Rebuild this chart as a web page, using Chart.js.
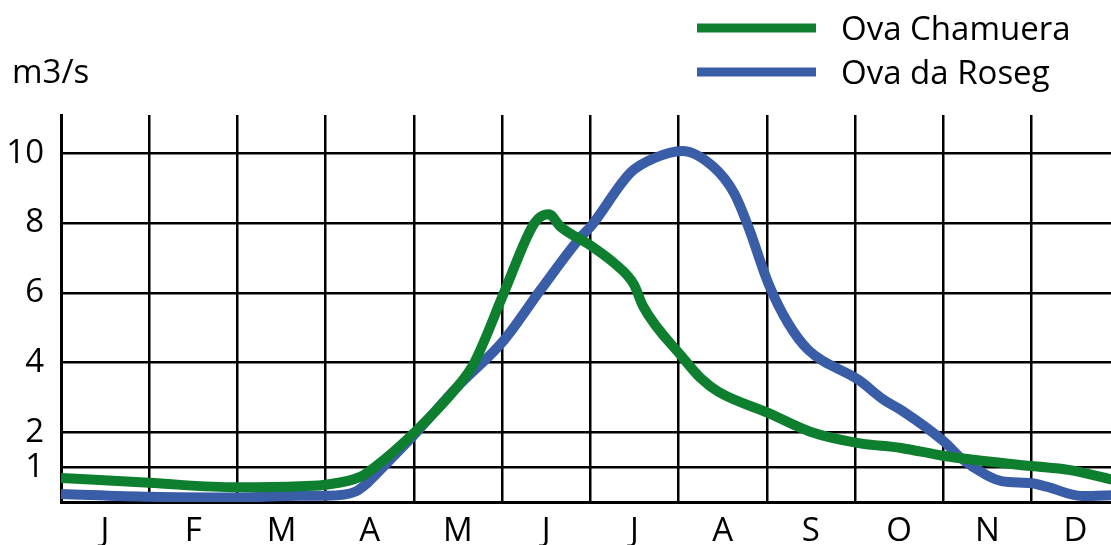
<!DOCTYPE html>
<html>
<head>
<meta charset="utf-8">
<script src="https://cdn.jsdelivr.net/npm/chart.js@4/dist/chart.umd.min.js"></script>
<style>
  html, body { margin: 0; padding: 0; background: #fff; }
  #wrap { width: 1111px; height: 545px; }
</style>
</head>
<body>
<div id="wrap"><canvas id="flow" width="1111" height="545"></canvas></div>
<script>
// month initials under the axis
const monthLabels = ["J", "F", "M", "A", "M", "J", "J", "A", "S", "O", "N", "D"];
const yTicks = [1, 2, 4, 6, 8, 10];
const seriesNames = ["Ova Chamuera", "Ova da Roseg"];
const unitLabel = "m3/s";

// Ova Chamuera, month position -> m3/s
const chamueraMonth = [0, 1, 2, 2.71, 3.02, 3.39, 3.54, 4.02, 4.49, 4.68, 5.02, 5.32, 5.42, 5.53, 5.66, 6.0, 6.27, 6.49, 6.6, 7.04, 7.25, 7.45, 8.02, 8.5, 9.04, 9.52, 10.01, 11.0, 11.42, 11.95];
const chamueraFlow  = [0.69, 0.55, 0.42, 0.45, 0.5, 0.72, 0.97, 2.03, 3.3, 3.98, 6.0, 7.8, 8.15, 8.25, 7.9, 7.36, 6.85, 6.25, 5.6, 4.16, 3.55, 3.16, 2.55, 2.01, 1.69, 1.55, 1.32, 1.03, 0.92, 0.62];

// Ova da Roseg
const rosegMonth = [0, 1, 2, 2.71, 3.02, 3.34, 3.47, 3.54, 4.02, 4.49, 5.02, 5.44, 5.89, 6.0, 6.46, 6.72, 7.04, 7.4, 7.63, 7.79, 8.02, 8.24, 8.47, 9.04, 9.33, 9.52, 10.01, 10.2, 10.49, 10.66, 11.0, 11.17, 11.57, 11.95];
const rosegFlow  = [0.23, 0.15, 0.13, 0.18, 0.18, 0.3, 0.54, 0.72, 1.98, 3.3, 4.64, 6.1, 7.6, 7.89, 9.46, 9.86, 10.07, 9.6, 8.85, 7.89, 6.25, 5.13, 4.36, 3.5, 2.92, 2.64, 1.73, 1.26, 0.77, 0.6, 0.54, 0.44, 0.17, 0.2];

const colors = ["#0e7f2e", "#3a5da8"];
const FONT = "'Open Sans', sans-serif";

const toPoints = (xs, ys) => xs.map((m, i) => ({ x: m, y: ys[i] }));

// legend + unit label drawn by hand (stacked box at top right)
const sideText = {
    id: 'sideText',
    afterDraw(chart) {
        const ctx = chart.ctx;
        ctx.save();
        ctx.font = "33px " + FONT;
        ctx.fillStyle = "#000";
        ctx.textBaseline = "alphabetic";
        ctx.textAlign = "left";
        ctx.fillText(unitLabel, 12, 83);
        chart.data.datasets.forEach((ds, i) => {
            const cy = 28 + i * 44;
            ctx.fillStyle = ds.borderColor;
            ctx.fillRect(697, cy - 4.5, 119, 9);
            ctx.fillStyle = "#000";
            ctx.fillText(ds.label, 841, cy + 12);
        });
        ctx.restore();
    }
};

new Chart(document.getElementById('flow'), {
    type: 'line',
    data: {
        datasets: [
            { label: seriesNames[0], data: toPoints(chamueraMonth, chamueraFlow), borderColor: colors[0], backgroundColor: colors[0] },
            { label: seriesNames[1], data: toPoints(rosegMonth, rosegFlow), borderColor: colors[1], backgroundColor: colors[1] }
        ]
    },
    options: {
        responsive: false,
        animation: false,
        devicePixelRatio: 1,
        layout: { padding: { top: 115, right: 0, left: 0, bottom: 0 } },
        elements: {
            line: { borderWidth: 10, tension: 0.35, cubicInterpolationMode: 'monotone', borderJoinStyle: 'round' },
            point: { radius: 0 }
        },
        plugins: {
            legend: { display: false },
            tooltip: { enabled: false }
        },
        scales: {
            x: {
                type: 'linear',
                min: 0,
                max: 11.9,
                z: 1,
                afterBuildTicks: axis => { axis.ticks = monthLabels.map((_, i) => ({ value: i })); },
                afterFit: axis => { axis.height = 43; },
                grid: { color: '#000', lineWidth: 2.5, drawTicks: false },
                border: { color: '#000', width: 3 },
                ticks: {
                    autoSkip: false,
                    maxRotation: 0,
                    padding: 10,
                    labelOffset: 44,
                    color: '#000',
                    font: { family: FONT, size: 33 },
                    callback: (v, i) => monthLabels[i]
                }
            },
            y: {
                min: 0,
                max: 11.1,
                z: 1,
                afterBuildTicks: axis => { axis.ticks = yTicks.map(v => ({ value: v })); },
                afterFit: axis => { axis.width = 61; },
                grid: { color: '#000', lineWidth: 2.5, drawTicks: false },
                border: { color: '#000', width: 3 },
                ticks: {
                    padding: 17,
                    color: '#000',
                    font: { family: FONT, size: 33 },
                    callback: v => String(v)
                }
            }
        }
    },
    plugins: [sideText]
});
</script>
</body>
</html>
